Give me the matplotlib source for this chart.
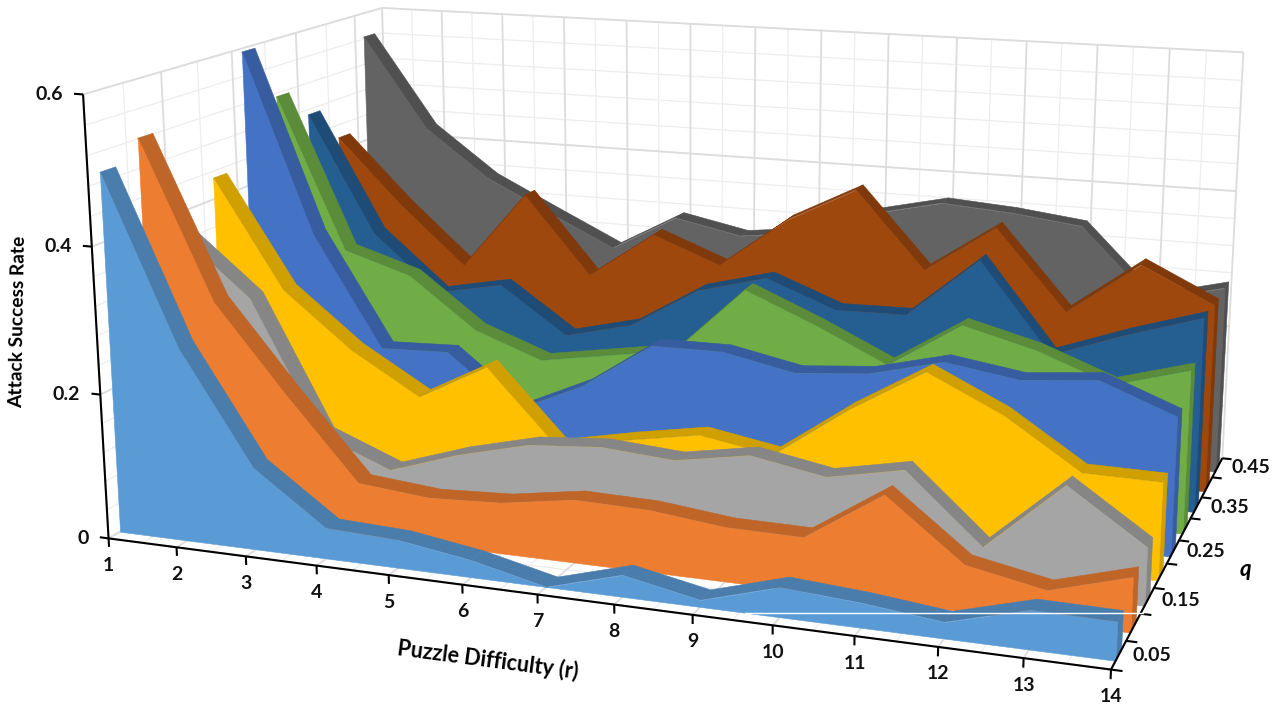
import numpy as np
import matplotlib
matplotlib.use("Agg")
import matplotlib.pyplot as plt
from matplotlib.lines import Line2D
from matplotlib.transforms import offset_copy
from mpl_toolkits.mplot3d import proj3d
from mpl_toolkits.mplot3d.art3d import Poly3DCollection, Line3DCollection

r = list(range(1, 15))
q = [0.05, 0.10, 0.15, 0.20, 0.25, 0.30, 0.35, 0.40, 0.45]
q_labels = ["0.05", "0.15", "0.25", "0.35", "0.45"]
z_labels = ["0", "0.2", "0.4", "0.6"]

s_005 = [0.493, 0.266, 0.113, 0.042, 0.038, 0.023, 0.000, 0.029, 0.009, 0.039, 0.032, 0.021, 0.050, 0.049]
s_010 = [0.521, 0.305, 0.186, 0.074, 0.065, 0.070, 0.086, 0.084, 0.073, 0.072, 0.140, 0.061, 0.041, 0.071]
s_015 = [0.369, 0.288, 0.102, 0.063, 0.096, 0.121, 0.129, 0.122, 0.140, 0.122, 0.143, 0.052, 0.146, 0.077]
s_020 = [0.430, 0.277, 0.199, 0.141, 0.194, 0.090, 0.111, 0.129, 0.112, 0.185, 0.247, 0.199, 0.133, 0.132]
s_025 = [0.595, 0.336, 0.177, 0.181, 0.105, 0.151, 0.219, 0.220, 0.200, 0.209, 0.235, 0.220, 0.230, 0.191]
s_030 = [0.515, 0.293, 0.263, 0.190, 0.154, 0.171, 0.188, 0.285, 0.243, 0.196, 0.262, 0.236, 0.198, 0.228]
s_035 = [0.472, 0.298, 0.215, 0.235, 0.167, 0.192, 0.253, 0.280, 0.242, 0.244, 0.331, 0.205, 0.243, 0.276]
s_040 = [0.420, 0.322, 0.235, 0.352, 0.237, 0.307, 0.269, 0.345, 0.397, 0.287, 0.357, 0.243, 0.320, 0.271]
s_045 = [0.563, 0.425, 0.353, 0.305, 0.258, 0.313, 0.293, 0.305, 0.343, 0.366, 0.359, 0.347, 0.247, 0.273]
series = [s_005, s_010, s_015, s_020, s_025, s_030, s_035, s_040, s_045]

face_colors = ["#5B9BD5", "#ED7D31", "#A5A5A5", "#FFC000", "#4472C4", "#70AD47", "#255E91", "#9E480E", "#636363"]
top_colors = ["#4A7DAC", "#BF6528", "#868686", "#CFA000", "#375C9F", "#5B8C3A", "#1E4C76", "#80390B", "#505050"]

W, H = 1279, 709
plt.rcParams["font.family"] = ["Lato", "DejaVu Sans"]
plt.rcParams["font.weight"] = "bold"

fig = plt.figure(figsize=(W / 100, H / 100), dpi=100)

# camera fitted to the pixel positions of the axis corners
s, cx, cy = 6515.63, 691.41, 288.72
ax = fig.add_axes([0.1, 0.1, 0.5, 0.5], projection="3d")
vl = ax.viewLim
side = s * vl.width
ax_cx = cx + s * (vl.x0 + vl.x1) / 2
ax_cy = cy - s * (vl.y0 + vl.y1) / 2
ax.set_position([(ax_cx - side / 2) / W, (H - ax_cy - side / 2) / H, side / W, side / H])
q_min, q_max = 0.025, 0.475
ax.set_xlim(1, 14)
ax.set_ylim(q_min, q_max)
ax.set_zlim(0, 0.6)
ax.view_init(14.0245, -70.2333)
ax.set_proj_type("persp", focal_length=0.3985)
ax.set_box_aspect((1, 0.6355, 0.4455))
ax.set_axis_off()
ax.computed_zorder = False

# walls and floor grid
z_minor = np.arange(0, 0.601, 0.04)
z_major = np.arange(0, 0.601, 0.2)
r_half = np.arange(1, 14.01, 0.5)
q_edges = np.arange(q_min, q_max + 0.001, 0.05)
light, heavy = [], []
for z in z_minor:
    light.append([(1, q_min, z), (1, q_max, z)])
    light.append([(1, q_max, z), (14, q_max, z)])
for z in z_major:
    heavy.append([(1, q_min, z), (1, q_max, z)])
    heavy.append([(1, q_max, z), (14, q_max, z)])
for i, x in enumerate(r_half):
    seg = [[(x, q_max, 0), (x, q_max, 0.6)], [(x, q_min, 0), (x, q_max, 0)]]
    (heavy if i % 2 == 0 else light).extend(seg)
for i, y in enumerate(q_edges):
    seg = [[(1, y, 0), (1, y, 0.6)], [(1, y, 0), (14, y, 0)]]
    (heavy if i % 2 == 0 else light).extend(seg)
ax.add_collection3d(Line3DCollection(light, colors="#EDEDED", linewidths=0.9, zorder=1))
ax.add_collection3d(Line3DCollection(heavy, colors="#DCDCDC", linewidths=1.3, zorder=2))

# one slab per series, back to front
half = 0.01
for i in range(len(q) - 1, -1, -1):
    vals = series[i]
    y0, y1 = q[i] - half, q[i] + half
    order = 10 + 3 * (len(q) - i)
    tops = [[(r[j], y0, vals[j]), (r[j + 1], y0, vals[j + 1]), (r[j + 1], y1, vals[j + 1]), (r[j], y1, vals[j])]
            for j in range(len(r) - 1)]
    tops.append([(14, y0, 0), (14, y1, 0), (14, y1, vals[-1]), (14, y0, vals[-1])])
    ax.add_collection3d(Poly3DCollection(tops, facecolors=top_colors[i], edgecolors=top_colors[i],
                                         linewidths=0.4, zorder=order))
    front = [(1, y0, 0)] + [(r[j], y0, vals[j]) for j in range(len(r))] + [(14, y0, 0)]
    ax.add_collection3d(Poly3DCollection([front], facecolors=face_colors[i], edgecolors=face_colors[i],
                                         linewidths=0.4, zorder=order + 1))

# axis lines and ticks
axis_lines = [[(1, q_min, 0), (14, q_min, 0)], [(1, q_min, 0), (1, q_min, 0.6)], [(14, q_min, 0), (14, q_max, 0)]]
for x in r:
    axis_lines.append([(x, q_min, 0), (x, q_min, -0.012)])
for z in z_major:
    axis_lines.append([(1, q_min, z), (0.87, q_min, z)])
for y in q_edges:
    axis_lines.append([(14, y, 0), (14.13, y, 0)])
ax.add_collection3d(Line3DCollection(axis_lines, colors="black", linewidths=1.5, zorder=60))


def tick_label(x, y, z, label, dx, dy, ha):
    # project the tick position, then nudge the label off it in pixels
    px, py, _ = proj3d.proj_transform(x, y, z, ax.get_proj())
    ax.text2D(px, py, label, transform=offset_copy(ax.transData, fig, x=dx, y=dy, units="dots"),
              ha=ha, va="center", fontsize=14, color="#111111", zorder=61)


for x in r:
    tick_label(x, q_min, 0, str(x), 0, -27, "center")
for z, lab in zip(z_major, z_labels):
    tick_label(1, q_min, z, lab, -20, 0, "right")
for y, lab in zip(q[::2], q_labels):
    tick_label(14, y, 0, lab, 14, 0, "left")

fig.text(18 / W, 1 - 322 / H, "Attack Success Rate", rotation=89, ha="center", va="center", fontsize=13.8)
fig.text(488 / W, 1 - 660 / H, "Puzzle Difficulty (r)", rotation=-7.5, ha="center", va="center", fontsize=15.5)
fig.text(1245 / W, 1 - 570 / H, "q", style="italic", ha="center", va="center", fontsize=16)

# thin white scan line across the front of the lowest series
fig.add_artist(Line2D([745 / W, 1143 / W], [1 - 612.5 / H, 1 - 612.5 / H], color="white", lw=1.0))

fig.savefig("out.png", dpi=100)
